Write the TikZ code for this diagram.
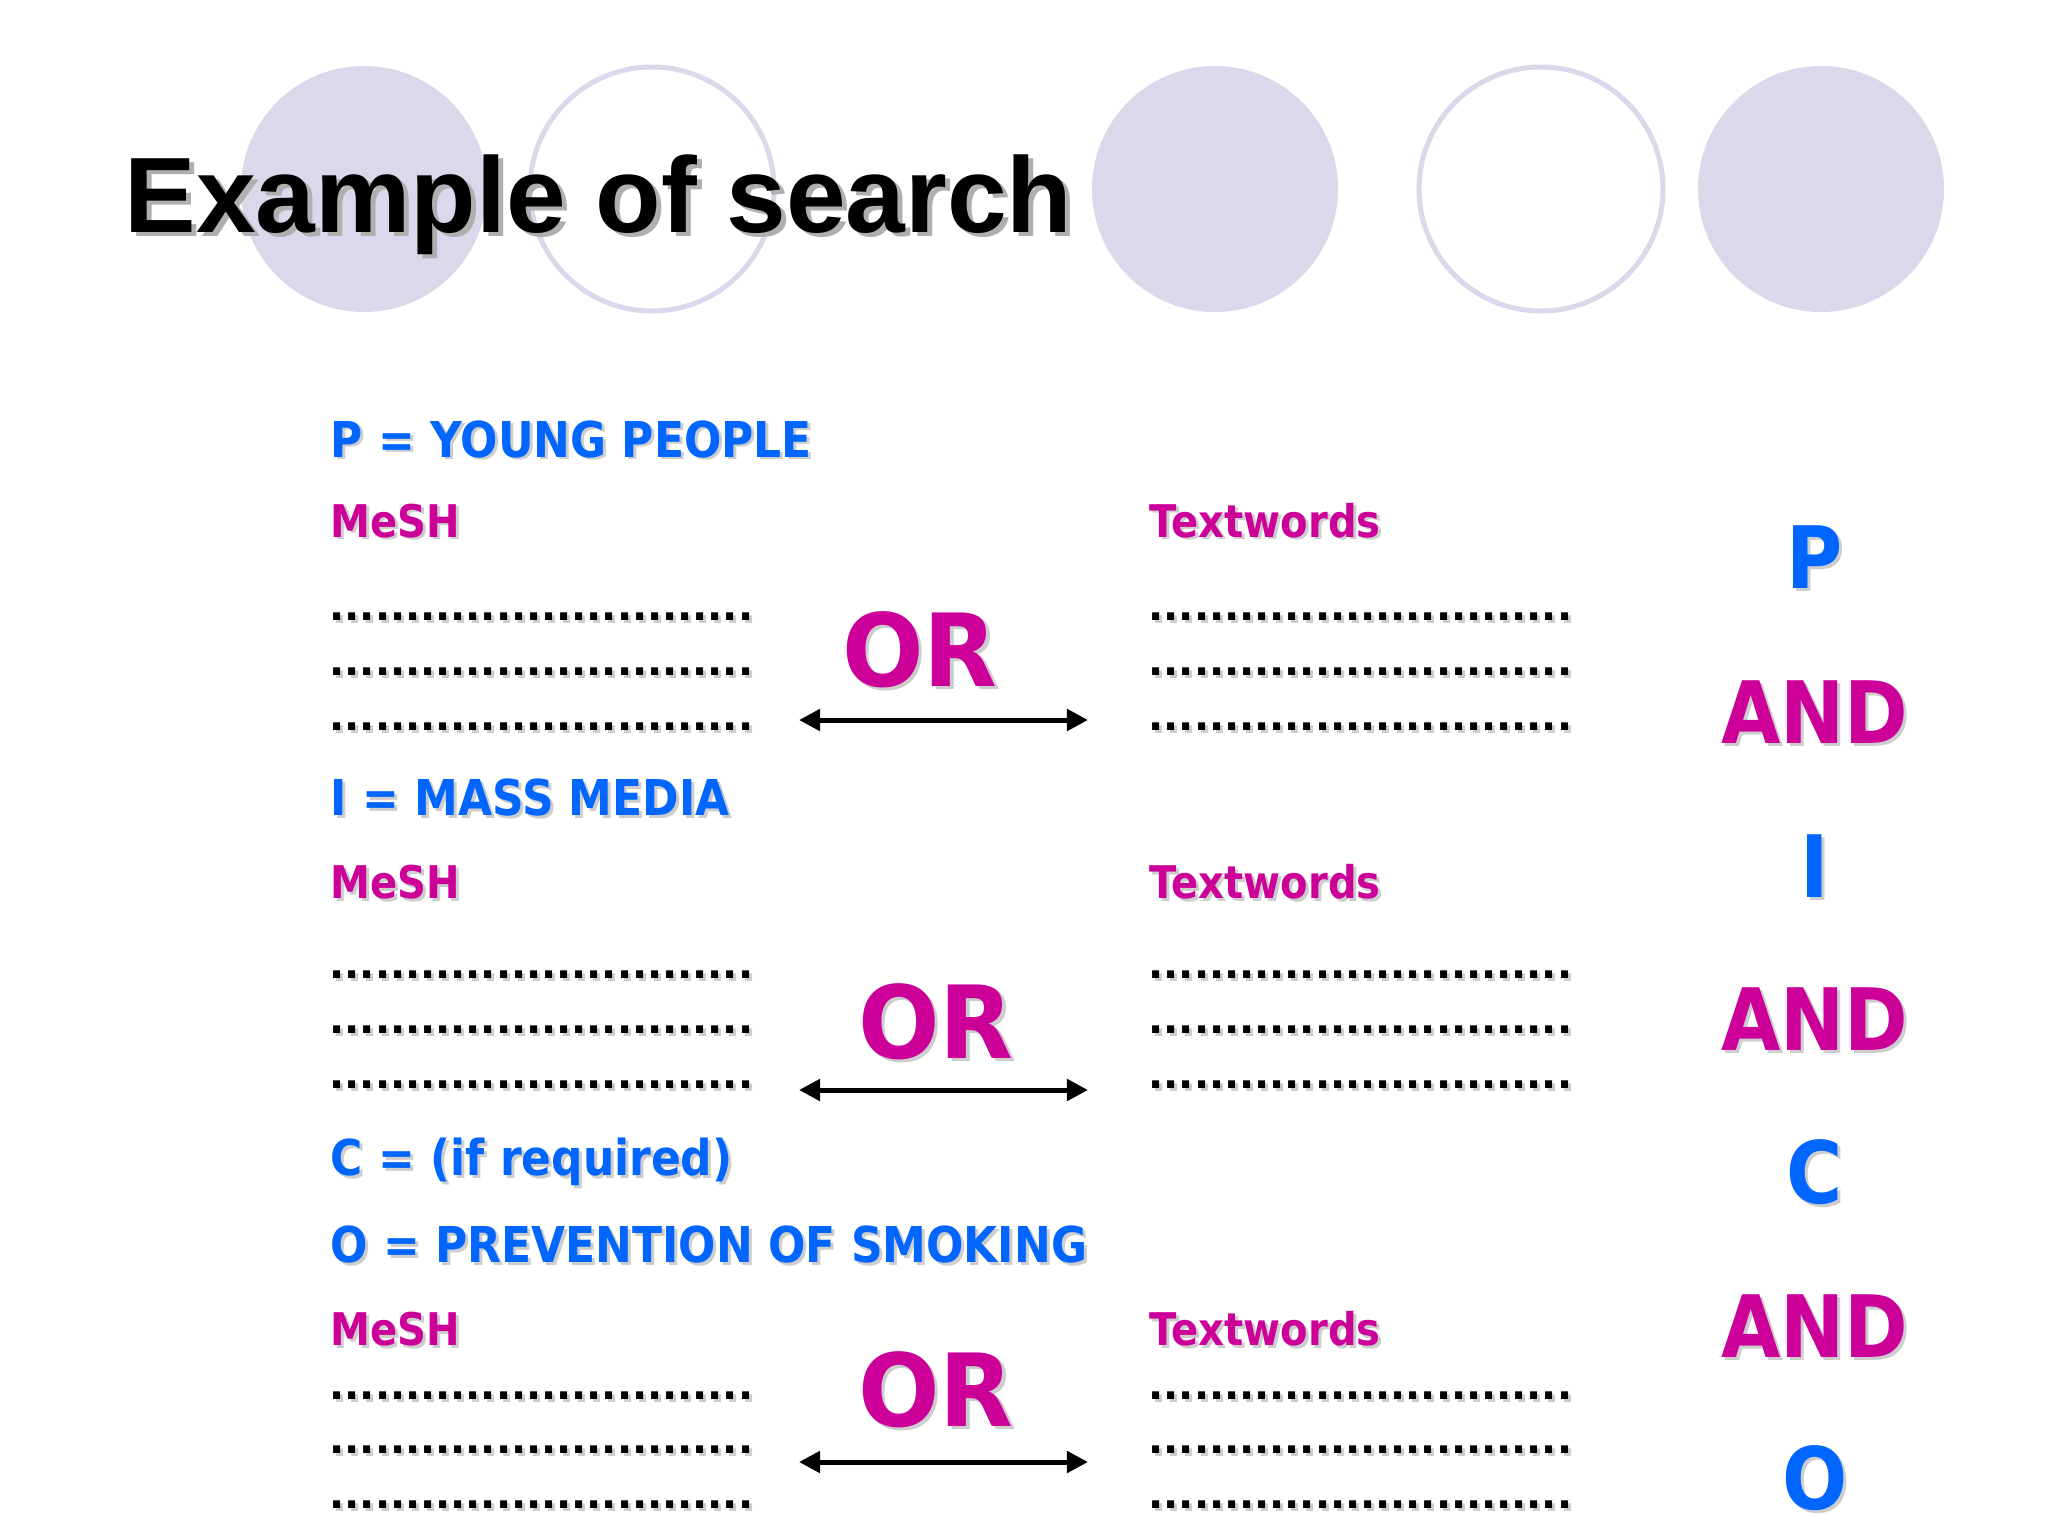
\documentclass[tikz,border=0pt]{standalone}
\usepackage{fontspec}
\usetikzlibrary{arrows.meta}
\newfontfamily\tahfont[FakeStretch=0.89]{DejaVu Sans}
\newfontfamily\tahwide[FakeStretch=0.95]{DejaVu Sans}
\newfontfamily\dotfont[FakeStretch=0.98]{DejaVu Sans}
\newfontfamily\arialfont{Liberation Sans}
\definecolor{lav}{RGB}{217,217,235}
\definecolor{pblue}{RGB}{0,102,255}
\definecolor{pmag}{RGB}{204,0,153}
\definecolor{shadowc}{RGB}{205,205,205}
\definecolor{tshadowc}{RGB}{175,175,175}
\newcommand\shad[2][0.85pt]{\leavevmode\rlap{\kern#1\raisebox{-#1}{\textcolor{shadowc}{#2}}}#2}
\newcommand\tshad[2][1.4pt]{\leavevmode\rlap{\kern#1\raisebox{-#1}{\textcolor{tshadowc}{#2}}}#2}
\begin{document}
\begin{tikzpicture}[x=0.01cm,y=-0.01cm,
  heading/.style={anchor=base west, inner sep=0pt, text=pblue, font=\tahfont\bfseries\fontsize{14.05}{16}\selectfont},
  sublabel/.style={anchor=base west, inner sep=0pt, text=pmag, font=\tahfont\bfseries\fontsize{12.8}{15}\selectfont},
  dotrow/.style={anchor=base west, inner sep=0pt, text=black, font=\dotfont\bfseries\fontsize{11.55}{13}\selectfont},
  orlabel/.style={anchor=base, inner sep=0pt, text=pmag, font=\tahwide\bfseries\fontsize{28.7}{34}\selectfont},
  colblue/.style={anchor=base, inner sep=0pt, text=pblue, font=\tahfont\bfseries\fontsize{24.5}{29}\selectfont},
  colmag/.style={colblue, text=pmag},
  titlestyle/.style={anchor=base west, inner sep=0pt, text=black, font=\arialfont\bfseries\fontsize{30.5}{36}\selectfont},
  dbl/.style={line width=0.05cm, {Triangle[length=6pt,width=6pt]}-{Triangle[length=6pt,width=6pt]}},
  filledcirc/.style={fill=lav, draw=none},
  ringcirc/.style={draw=lav, line width=0.05cm, fill=none},
]
\fill[white] (0,0) rectangle (2048,1536);
\useasboundingbox (0,0) rectangle (2048,1536);

% decorative circles
\fill[filledcirc] (364,189) circle (123);
\draw[ringcirc] (652,189) circle (122);
\fill[filledcirc] (1215,189) circle (123);
\draw[ringcirc] (1541,189) circle (122);
\fill[filledcirc] (1821,189) circle (123);

% title
\node[titlestyle] (title) at (124,232) {\tshad{Example of search}};

% P block
\node[heading] (ph) at (330,457) {\shad{P = YOUNG PEOPLE}};
\node[sublabel] (pm) at (330,537) {\shad{MeSH}};
\node[sublabel] (pt) at (1149,537) {\shad{Textwords}};
\node[dotrow] (pl1) at (329,620) {\shad{............................}};
\node[dotrow] (pl2) at (329,675) {\shad{............................}};
\node[dotrow] (pl3) at (329,730) {\shad{............................}};
\node[dotrow] (pr1) at (1148,620) {\shad{............................}};
\node[dotrow] (pr2) at (1148,675) {\shad{............................}};
\node[dotrow] (pr3) at (1148,730) {\shad{............................}};
\node[orlabel] (por) at (920,686) {\shad[1pt]{OR}};
\coordinate (pa1) at (799,720);
\coordinate (pa2) at (1088,720);
\draw[dbl] (pa1) -- (pa2);

% I block
\node[heading] (ih) at (330,815) {\shad{I = MASS MEDIA}};
\node[sublabel] (im) at (330,898) {\shad{MeSH}};
\node[sublabel] (it) at (1149,898) {\shad{Textwords}};
\node[dotrow] (il1) at (329,978) {\shad{............................}};
\node[dotrow] (il2) at (329,1033) {\shad{............................}};
\node[dotrow] (il3) at (329,1088) {\shad{............................}};
\node[dotrow] (ir1) at (1148,978) {\shad{............................}};
\node[dotrow] (ir2) at (1148,1033) {\shad{............................}};
\node[dotrow] (ir3) at (1148,1088) {\shad{............................}};
\node[orlabel] (ior) at (936,1058) {\shad[1pt]{OR}};
\coordinate (ia1) at (799,1090);
\coordinate (ia2) at (1088,1090);
\draw[dbl] (ia1) -- (ia2);

% C and O block
\node[heading] (ch) at (330,1175) {\shad{C = (if required)}};
\node[heading] (oh) at (330,1262) {\shad{O = PREVENTION OF SMOKING}};
\node[sublabel] (om) at (330,1345) {\shad{MeSH}};
\node[sublabel] (ot) at (1149,1345) {\shad{Textwords}};
\node[dotrow] (ol1) at (329,1399) {\shad{............................}};
\node[dotrow] (ol2) at (329,1453) {\shad{............................}};
\node[dotrow] (ol3) at (329,1508) {\shad{............................}};
\node[dotrow] (or1) at (1148,1399) {\shad{............................}};
\node[dotrow] (or2) at (1148,1453) {\shad{............................}};
\node[dotrow] (or3) at (1148,1508) {\shad{............................}};
\node[orlabel] (oor) at (936,1426) {\shad[1pt]{OR}};
\coordinate (oa1) at (799,1462);
\coordinate (oa2) at (1088,1462);
\draw[dbl] (oa1) -- (oa2);

% right column
\node[colblue] (kp) at (1815,588) {\shad{P}};
\node[colmag] (kand1) at (1815,743) {\shad{AND}};
\node[colblue] (ki) at (1815,897) {\shad{I}};
\node[colmag] (kand2) at (1815,1050) {\shad{AND}};
\node[colblue] (kc) at (1815,1203) {\shad{C}};
\node[colmag] (kand3) at (1815,1357) {\shad{AND}};
\node[colblue] (ko) at (1815,1509) {\shad{O}};
\end{tikzpicture}
\end{document}
